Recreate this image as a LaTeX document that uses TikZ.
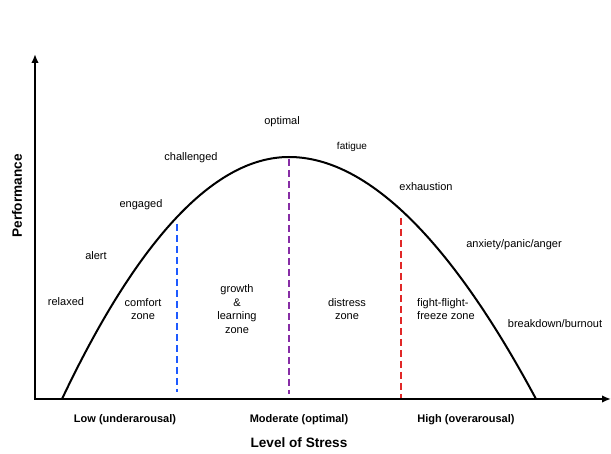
\documentclass[tikz,border=0pt]{standalone}
\usepackage{fontspec}
\setmainfont{Liberation Sans}
\usetikzlibrary{arrows.meta}
\definecolor{zblue}{RGB}{30,90,255}
\definecolor{zpurple}{RGB}{135,45,165}
\definecolor{zred}{RGB}{225,40,40}
\tikzset{
  lbl/.style={font=\fontsize{11}{13}\selectfont, inner sep=0pt},
  zone/.style={font=\fontsize{11}{13.5}\selectfont, inner sep=0pt, align=center},
  xlbl/.style={font=\fontsize{11}{13}\selectfont\bfseries, inner sep=0pt},
  axtitle/.style={font=\fontsize{13.6}{16}\selectfont\bfseries, inner sep=0pt},
  axis/.style={line width=2pt, -{Latex[length=9pt,width=7.5pt]}},
  curve/.style={line width=2pt},
  divider/.style={line width=1.6pt, dash pattern=on 7pt off 4pt}
}
\begin{document}
\begin{tikzpicture}[x=1pt,y=-1pt]
\useasboundingbox (0,0) rectangle (611,454);
\fill[white] (0,0) rectangle (611,454);
% axes
\coordinate (O) at (35,399);
\coordinate (ytop) at (35,54);
\coordinate (xend) at (611,399);
\draw[axis] (35,400) -- (ytop);
\draw[axis] (34,399) -- (xend);
% curve
\coordinate (c0) at (62,399);
\coordinate (peak) at (289,157);
\coordinate (c1) at (536,399);
\draw[curve] (c0) .. controls (135,245) and (212,157) .. (peak)
  .. controls (368,157) and (452,242) .. (c1);
% dividers
\coordinate (b1) at (177,224); \coordinate (b2) at (177,392);
\coordinate (p1) at (289,159); \coordinate (p2) at (289,394);
\coordinate (r1) at (401,218); \coordinate (r2) at (401,398);
\draw[divider, zblue] (b1) -- (b2);
\draw[divider, zpurple] (p1) -- (p2);
\draw[divider, zred] (r1) -- (r2);
% state labels
\node[lbl] (relaxed) at (66,302) {relaxed};
\node[lbl] (alert) at (96,256) {alert};
\node[lbl] (engaged) at (141,205) {engaged};
\node[lbl] (challenged) at (191,158) {challenged};
\node[lbl] (optimal) at (282,122) {optimal};
\node[lbl, font=\fontsize{10}{12}\selectfont] (fatigue) at (352,147) {fatigue};
\node[lbl] (exhaustion) at (426,187) {exhaustion};
\node[lbl] (anxiety) at (514,245) {anxiety/panic/anger};
\node[lbl] (breakdown) at (555,324) {breakdown/burnout};
% zones
\node[zone] (comfort) at (143,309) {comfort\\zone};
\node[zone] (growth) at (237,309) {growth\\\&\\learning\\zone};
\node[zone] (distress) at (347,309) {distress\\zone};
\node[zone, align=left, anchor=west] (fight) at (417,309) {fight-flight-\\freeze zone};
% axis labels
\node[xlbl] (low) at (125,420) {Low (underarousal)};
\node[xlbl] (moderate) at (299,420) {Moderate (optimal)};
\node[xlbl] (high) at (466,420) {High (overarousal)};
\node[axtitle] (stress) at (299,443) {Level of Stress};
\node[axtitle, rotate=90] (perf) at (17,196) {Performance};
\end{tikzpicture}
\end{document}
